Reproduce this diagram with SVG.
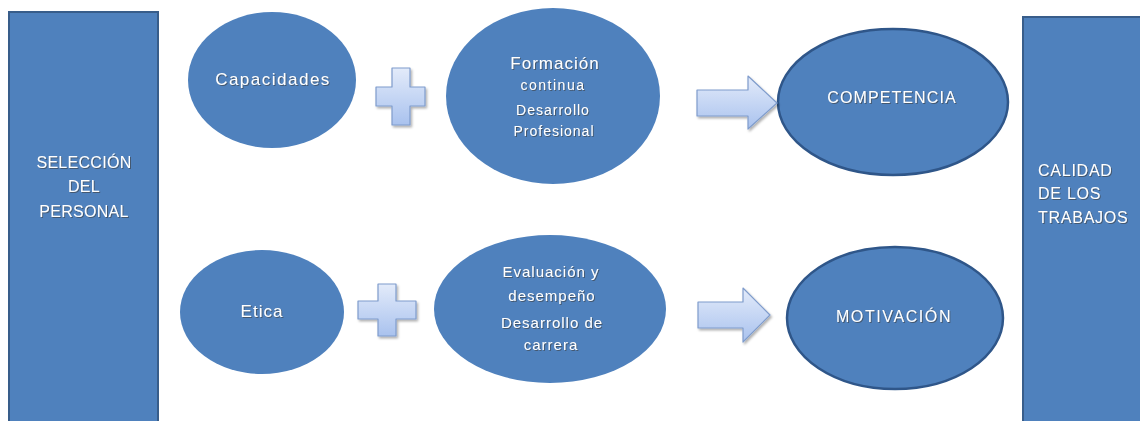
<svg xmlns="http://www.w3.org/2000/svg" width="1140" height="421" viewBox="0 0 1140 421">
<style>
.blk{fill:#4f81bd;stroke:#385d8a;stroke-width:2}
.ell{fill:#4f81bd;stroke:none}
.ellb{fill:#4f81bd;stroke:#2f5689;stroke-width:2.5}
.sh{fill:url(#lg);stroke:#7f9ccc;stroke-width:1.2;stroke-linejoin:round;filter:url(#ds)}
text{font-family:"Liberation Sans","DejaVu Sans",sans-serif;fill:#ffffff;text-anchor:middle;filter:url(#ts)}
.t16{font-size:16px}
.t17{font-size:17px}
.t15{font-size:15px}
.t14{font-size:14px}
</style>
<defs>
<linearGradient id="lg" x1="0" y1="0" x2="0" y2="1">
<stop offset="0" stop-color="#e3ebfa"/>
<stop offset="1" stop-color="#a9c2ee"/>
</linearGradient>
<filter id="ds" x="-20%" y="-20%" width="150%" height="150%">
<feDropShadow dx="1.5" dy="2" stdDeviation="1.2" flood-color="#000" flood-opacity="0.3"/>
</filter>
<filter id="ts" x="-10%" y="-30%" width="130%" height="160%">
<feDropShadow dx="1" dy="1" stdDeviation="0.3" flood-color="#3a3a3a" flood-opacity="0.6"/>
</filter>
</defs>
<rect width="1140" height="421" fill="#ffffff"/>

<g id="seleccion">
<rect class="blk" x="9" y="12" width="149" height="420"/>
<text class="t16" x="84" y="168" letter-spacing="0.3">SELECCIÓN</text>
<text class="t16" x="84" y="192" letter-spacing="0.3">DEL</text>
<text class="t16" x="84" y="217" letter-spacing="0.3">PERSONAL</text>
</g>

<g id="capacidades">
<ellipse class="ell" cx="272" cy="80" rx="84" ry="68"/>
<text class="t17" x="273" y="85" letter-spacing="1.5">Capacidades</text>
</g>

<g id="etica">
<ellipse class="ell" cx="262" cy="312" rx="82" ry="62"/>
<text class="t17" x="262" y="317" letter-spacing="1">Etica</text>
</g>

<g id="formacion">
<ellipse class="ell" cx="553" cy="96" rx="107" ry="88"/>
<text class="t17" x="555" y="69" letter-spacing="1">Formación</text>
<text class="t14" x="553" y="90" letter-spacing="1.5">continua</text>
<text class="t14" x="553" y="115" letter-spacing="1">Desarrollo</text>
<text class="t14" x="554" y="136" letter-spacing="1">Profesional</text>
</g>

<g id="evaluacion">
<ellipse class="ell" cx="550" cy="309" rx="116" ry="74"/>
<text class="t15" x="551" y="277" letter-spacing="1">Evaluación y</text>
<text class="t15" x="552" y="301" letter-spacing="1">desempeño</text>
<text class="t15" x="552" y="328" letter-spacing="1">Desarrollo de</text>
<text class="t15" x="551" y="350" letter-spacing="1">carrera</text>
</g>

<g id="competencia">
<ellipse class="ellb" cx="893" cy="102" rx="115" ry="73"/>
<text class="t16" x="892" y="103" letter-spacing="1.1">COMPETENCIA</text>
</g>

<g id="motivacion">
<ellipse class="ellb" cx="895" cy="318" rx="108" ry="71"/>
<text class="t16" x="894" y="322" letter-spacing="1.6">MOTIVACIÓN</text>
</g>

<g id="calidad">
<rect class="blk" x="1023" y="17" width="130" height="420"/>
<text class="t16" x="1038" y="176" letter-spacing="0.75" style="text-anchor:start">CALIDAD</text>
<text class="t16" x="1038" y="199" letter-spacing="0.75" style="text-anchor:start">DE LOS</text>
<text class="t16" x="1038" y="223" letter-spacing="0.75" style="text-anchor:start">TRABAJOS</text>
</g>

<g id="connectors">
<path class="sh" d="M392,68 H410 V87 H425 V106 H410 V125 H392 V106 H376 V87 H392 Z"/>
<path class="sh" d="M378,284 H396 V301 H416 V319 H396 V336 H378 V319 H358 V301 H378 Z"/>
<path class="sh" d="M697,90 H748 V76 L777,103 L748,129 V116 H697 Z"/>
<path class="sh" d="M698,302 H743 V288 L770,315 L743,342 V328 H698 Z"/>
</g>
</svg>
